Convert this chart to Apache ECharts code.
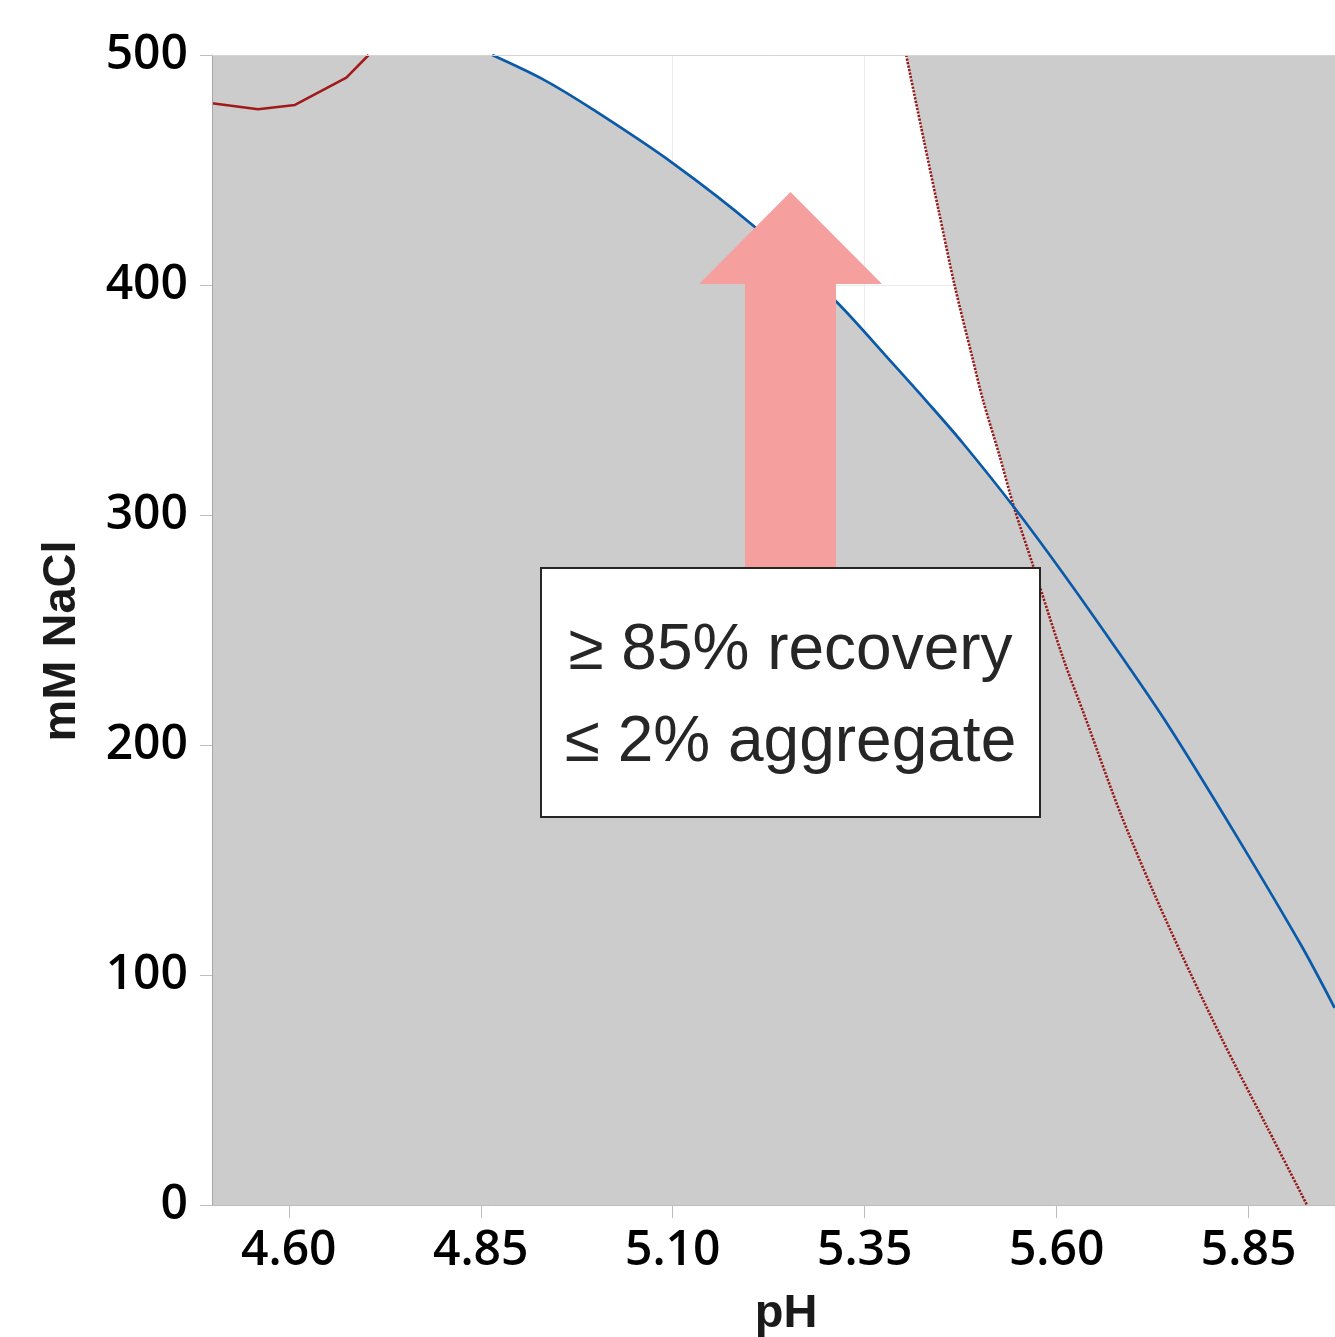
<!DOCTYPE html>
<html>
<head>
<meta charset="utf-8">
<script src="https://cdn.jsdelivr.net/npm/echarts@6/dist/echarts.min.js"></script>
<style>
html,body{margin:0;padding:0;background:#fff;}
#chart{width:1335px;height:1337px;}
</style>
</head>
<body>
<div id="chart"></div>
<script>
// ---- data ----
const xTicks = [4.60, 4.85, 5.10, 5.35, 5.60, 5.85];
const yTicks = [0, 100, 200, 300, 400, 500];
const xMin = 4.50, xMax = 5.9625, yMin = 0, yMax = 500;

// blue contour (recovery boundary)
const bluePH   = [4.865, 4.930, 4.997, 5.100, 5.207, 5.311, 5.387, 5.435, 5.478, 5.5443, 5.608, 5.686, 5.745, 5.832, 5.919, 5.962];
const blueNaCl = [500.0, 489.6, 476.1, 453.0, 425.2, 393.5, 365.7, 347.8, 331.2, 303.5, 274.8, 237.8, 208.7, 161.7, 112.6, 85.7];

// red dotted contour (aggregate boundary)
const redDotPH   = [5.404, 5.427, 5.447, 5.467, 5.490, 5.504, 5.526, 5.5443, 5.569, 5.6085, 5.637, 5.685, 5.744, 5.816, 5.874, 5.926];
const redDotNaCl = [500.0, 463.0, 431.3, 400.0, 368.7, 350.0, 325.3, 303.5, 278.3, 237.7, 212.2, 168.7, 122.6, 71.7, 33.9, 0.0];

// red solid contour (top left)
const redSolidPH   = [4.500, 4.560, 4.608, 4.675, 4.704];
const redSolidNaCl = [479.0, 476.4, 478.3, 490.2, 500.0];

// crossing of the blue and red dotted contours
const crossPH = 5.5443;

const boxLines = ['\u2265 85% recovery', '\u2264 2% aggregate'];
const xName = 'pH';
const yName = 'mM NaCl';

// ---- build series data ----
const zip = (a, b) => a.map((v, i) => [v, b[i]]);
const blueData = zip(bluePH, blueNaCl);
const redDotData = zip(redDotPH, redDotNaCl);
const redSolidData = zip(redSolidPH, redSolidNaCl);

// grey region = whole plot minus the white window
const greyPoly = [[xMin, yMax]]
  .concat(blueData.filter(p => p[0] <= crossPH))
  .concat(redDotData.filter(p => p[0] < crossPH).reverse())
  .concat([[xMax, yMax], [xMax, yMin], [xMin, yMin]]);

const chart = echarts.init(document.getElementById('chart'), null, {renderer: 'canvas'});

const tickFont = {fontFamily: 'Open Sans', fontWeight: 600, fontSize: 48, color: '#000'};
const nameFont = {fontFamily: 'Liberation Sans', fontWeight: 'bold', fontSize: 47, color: '#1a1a1a'};

const option = {
  animation: false,
  backgroundColor: '#ffffff',
  grid: {left: 212, width: 1123, top: 55, height: 1150, containLabel: false, outerBoundsMode: 'none'},
  xAxis: [{
    type: 'value', min: xMin, max: xMax, z: 10,
    name: xName, nameLocation: 'middle', nameGap: 86,
    nameTextStyle: Object.assign({padding: [0, 0, 0, 25]}, nameFont),
    axisLine: {show: true, lineStyle: {color: '#bdbdbd', width: 1}},
    axisTick: {show: true, length: 13, customValues: xTicks, lineStyle: {color: '#bdbdbd'}},
    axisLabel: Object.assign({customValues: xTicks, margin: 22, formatter: v => v.toFixed(2)}, tickFont),
    splitLine: {show: false}
  }, {
    type: 'value', min: xMin, max: xMax, position: 'top', z: 10,
    axisLine: {show: true, onZero: false, lineStyle: {color: '#d4d4d4', width: 1}},
    axisTick: {show: false}, axisLabel: {show: false}, splitLine: {show: false}
  }],
  yAxis: [{
    type: 'value', min: yMin, max: yMax, interval: 100, z: 10,
    name: yName, nameLocation: 'middle', nameGap: 126, nameRotate: 90,
    nameTextStyle: Object.assign({padding: [0, 22, 0, 0]}, nameFont),
    axisLine: {show: true, lineStyle: {color: '#a8a8a8', width: 1}},
    axisTick: {show: true, length: 12, lineStyle: {color: '#bdbdbd'}},
    axisLabel: Object.assign({margin: 24, padding: [6, 0, 0, 0]}, tickFont),
    splitLine: {show: false}
  }],
  series: [
    {
      // faint grid lines (only visible in the white window)
      type: 'line', data: [], z: 1, silent: true,
      markLine: {
        z: 1, silent: true, symbol: ['none', 'none'], label: {show: false},
        lineStyle: {color: '#ececec', width: 1, type: 'solid'},
        emphasis: {disabled: true},
        data: xTicks.map(v => ({xAxis: v})).concat(yTicks.map(v => ({yAxis: v})))
      }
    },
    {
      type: 'custom', z: 2, silent: true, clip: true,
      data: [[xMin, yMin]],
      renderItem: function (params, api) {
        const pts = greyPoly.map(p => api.coord(p));
        return {type: 'polygon', shape: {points: pts}, style: {fill: '#cccccc', stroke: null}};
      }
    },
    {
      type: 'line', data: redSolidData, z: 3, symbol: 'none', smooth: false,
      lineStyle: {color: '#a11a1a', width: 2.5}
    },
    {
      type: 'line', data: redDotData, z: 3, symbol: 'none', smooth: 0.3,
      lineStyle: {color: '#981818', width: 2.6, type: [2.2, 1.4]}
    },
    {
      type: 'line', data: blueData, z: 4, symbol: 'none', smooth: 0.3,
      lineStyle: {color: '#0a5aaa', width: 2.7}
    }
  ],
  graphic: [
    {
      type: 'polygon', z: 100,
      shape: {points: [[790.5, 192], [882, 284], [836, 284], [836, 570], [745, 570], [745, 284], [699, 284]]},
      style: {fill: '#f5a09f'}
    },
    {
      type: 'rect', z: 101,
      shape: {x: 541, y: 568, width: 499, height: 249},
      style: {fill: '#ffffff', stroke: '#262626', lineWidth: 2}
    },
    {
      type: 'text', z: 102, x: 790.5, y: 651,
      style: {text: boxLines[0], fontFamily: 'Liberation Sans', fontSize: 64, fill: '#262626', align: 'center', verticalAlign: 'middle'}
    },
    {
      type: 'text', z: 102, x: 790.5, y: 743,
      style: {text: boxLines[1], fontFamily: 'Liberation Sans', fontSize: 64, fill: '#262626', align: 'center', verticalAlign: 'middle'}
    }
  ]
};
chart.setOption(option);
</script>
</body>
</html>
